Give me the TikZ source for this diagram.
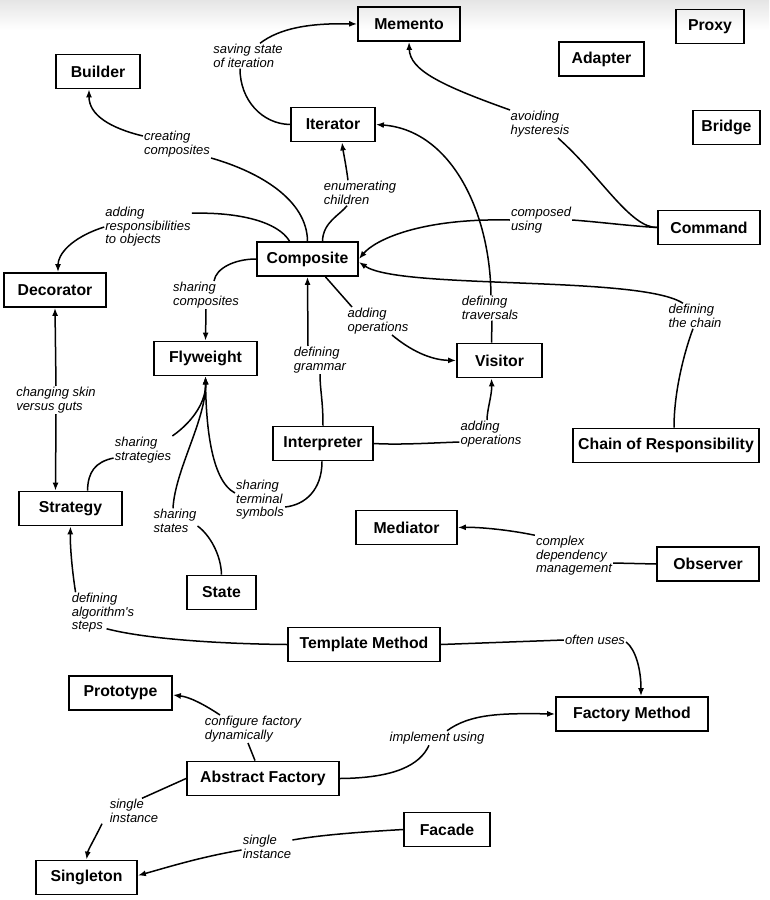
\documentclass[tikz,border=0pt]{standalone}
\usepackage{fontspec}
\newfontfamily\pfont{Liberation Sans}
\usetikzlibrary{arrows.meta}
\begin{document}
\begin{tikzpicture}[x=1pt,y=-1pt,
  pat/.style={draw, line width=1.8pt, font=\pfont\bfseries\fontsize{15.8}{17}\selectfont, minimum height=34pt, inner sep=2pt},
  lab/.style={font=\pfont\itshape\fontsize{13}{13.5}\selectfont, align=left, inner sep=1pt},
  con/.style={line width=1.5pt},
  arr/.style={con, -{Latex[length=8pt,width=6pt]}}]
\useasboundingbox (0,0) rectangle (769,900);
\shade[top color=black!10, bottom color=white] (0,0) rectangle (769,30);

% pattern boxes
\node[pat, minimum width=102pt] (memento) at (409,24) {Memento};
\node[pat, minimum width=68pt] (proxy) at (710,26.5) {Proxy};
\node[pat, minimum width=85pt] (adapter) at (601.5,59) {Adapter};
\node[pat, minimum width=84pt] (builder) at (98,71.5) {Builder};
\node[pat, minimum width=84pt] (iterator) at (333,124.5) {Iterator};
\node[pat, minimum width=67pt] (bridge) at (726.5,127.5) {Bridge};
\node[pat, minimum width=102pt] (command) at (709,227.5) {Command};
\node[pat, minimum width=101pt] (composite) at (307.5,259) {Composite};
\node[pat, minimum width=102pt] (decorator) at (55,290) {Decorator};
\node[pat, minimum width=103pt] (flyweight) at (205.5,358.5) {Flyweight};
\node[pat, minimum width=85pt] (visitor) at (499.5,360.5) {Visitor};
\node[pat, minimum width=100pt] (interpreter) at (323,443.5) {Interpreter};
\node[pat, minimum width=186pt] (chain) at (666,445.5) {Chain of Responsibility};
\node[pat, minimum width=103pt] (strategy) at (70.5,508.5) {Strategy};
\node[pat, minimum width=101pt] (mediator) at (406.5,527.5) {Mediator};
\node[pat, minimum width=102pt] (observer) at (708,564) {Observer};
\node[pat, minimum width=69pt] (state) at (221.5,592.5) {State};
\node[pat, minimum width=152pt] (template) at (364,644.5) {Template Method};
\node[pat, minimum width=103pt] (prototype) at (120.5,693) {Prototype};
\node[pat, minimum width=152pt] (factory) at (632,714) {Factory Method};
\node[pat, minimum width=152pt] (abstract) at (263,778.5) {Abstract Factory};
\node[pat, minimum width=86pt] (facade) at (447,829.5) {Facade};
\node[pat, minimum width=101pt] (singleton) at (86.5,877.5) {Singleton};

% labels
\node[lab] (l1) at (248,56) {saving state\\of iteration};
\node[lab] (l2) at (177,144) {creating\\composites};
\node[lab] (l3) at (360,193) {enumerating\\children};
\node[lab] (l4) at (148,227) {adding\\responsibilities\\to objects};
\node[lab] (l5) at (541,220) {composed\\using};
\node[lab] (l6) at (540,124) {avoiding\\hysteresis};
\node[lab] (l7) at (490,308) {defining\\traversals};
\node[lab] (l8) at (695,316) {defining\\the chain};
\node[lab] (l9) at (206,295) {sharing\\composites};
\node[lab] (l10) at (378,321) {adding\\operations};
\node[lab] (l11) at (320,360) {defining\\grammar};
\node[lab] (l12) at (491,434) {adding\\operations};
\node[lab] (l13) at (260,500) {sharing\\terminal\\symbols};
\node[lab] (l14) at (143,450) {sharing\\strategies};
\node[lab] (l15) at (175,521) {sharing\\states};
\node[lab] (l16) at (56,400) {changing skin\\versus guts};
\node[lab] (l17) at (103,613) {defining\\algorithm's\\steps};
\node[lab] (l18) at (595,640) {often uses};
\node[lab] (l19) at (574,556) {complex\\dependency\\management};
\node[lab] (l20) at (253,729) {configure factory\\dynamically};
\node[lab] (l21) at (437,738) {implement using};
\node[lab] (l22) at (134,811) {single\\instance};
\node[lab] (l23) at (267,847) {single\\instance};

% connectors
% Iterator -> Memento
\draw[con] (iterator.west) .. controls (262,124) and (240,100) .. ([xshift=-8pt]l1.south);
\draw[arr] ([xshift=12pt]l1.north) .. controls (280,28) and (310,23) .. (memento.west);
% Composite -> Builder
\draw[con] (composite.north) .. controls (307,200) and (260,172) .. (l2.south east);
\draw[arr] ([yshift=8pt]l2.west) .. controls (110,128) and (89,115) .. ([xshift=-9pt]builder.south);
% Composite -> Iterator
\draw[con] ([xshift=15pt]composite.north) .. controls (323,222) and (340,215) .. ([xshift=-13pt]l3.south);
\draw[arr] ([xshift=-12pt]l3.north) .. controls (346,165) and (343,150) .. ([xshift=9pt]iterator.south);
% Composite -> Decorator
\draw[con] ([xshift=-18pt]composite.north) .. controls (278,222) and (240,212) .. ([yshift=-7pt]l4.north east);
\draw[arr] (l4.west) .. controls (70,238) and (58,255) .. ([xshift=3pt]decorator.north);
% Command -> Composite
\draw[con] (command.west) .. controls (630,226) and (600,222) .. (l5.east);
\draw[arr] (l5.west) .. controls (420,218) and (375,240) .. (composite.east);
% Command -> Memento
\draw[con] (command.west) .. controls (630,228) and (600,175) .. ([xshift=18pt]l6.south);
\draw[arr] ([xshift=-30pt]l6.north) .. controls (440,85) and (410,70) .. (memento.south);
% Visitor -> Iterator
\draw[con] ([xshift=-8pt]visitor.north) -- ([xshift=2pt]l7.south);
\draw[arr] ([xshift=1pt]l7.north) .. controls (490,210) and (450,130) .. (iterator.east);
% Chain -> Composite
\draw[con] ([xshift=8pt]chain.north) .. controls (674,390) and (685,350) .. ([xshift=-2pt]l8.south);
\draw[arr] ([xshift=-12pt]l8.north) .. controls (640,275) and (400,290) .. ([yshift=-3pt]composite.east);
% Composite -> Flyweight
\draw[con] (composite.west) .. controls (235,259) and (216,268) .. ([xshift=8pt]l9.north);
\draw[arr] (l9.south) -- (flyweight.north);
% Composite -> Visitor
\draw[con] ([xshift=18pt]composite.south) -- ([xshift=-26pt]l10.north);
\draw[arr] ([xshift=14pt]l10.south) .. controls (410,350) and (430,360) .. (visitor.west);
% Interpreter -> Composite
\draw[con] (interpreter.north) .. controls (323,400) and (320,390) .. (l11.south);
\draw[arr] ([xshift=-12pt]l11.north) -- (composite.south);
% Interpreter -> Visitor
\draw[con] (interpreter.east) .. controls (400,445) and (430,443) .. ([yshift=-8pt]l12.west);
\draw[arr] ([xshift=-4pt]l12.north) .. controls (487,410) and (492,395) .. ([xshift=-8pt]visitor.south);
% Interpreter -> Flyweight
\draw[con] ([xshift=-1pt]interpreter.south) .. controls (322,490) and (305,505) .. ([yshift=-7pt]l13.east);
\draw[arr] ([yshift=7pt]l13.west) .. controls (210,480) and (206,420) .. (flyweight.south);
% Strategy -> Flyweight
\draw[con] ([xshift=17pt]strategy.north) .. controls (88,472) and (95,462) .. ([yshift=-8pt]l14.west);
\draw[arr] (l14.north east) .. controls (195,420) and (206,400) .. (flyweight.south);
% State -> Flyweight
\draw[con] (state.north) .. controls (221,555) and (210,535) .. ([yshift=-5pt]l15.east);
\draw[arr] ([xshift=-2pt]l15.north) .. controls (175,470) and (206,420) .. (flyweight.south);
% Decorator <-> Strategy
\draw[arr] (l16.north) -- (decorator.south);
\draw[arr] (l16.south) -- ([xshift=-15pt]strategy.north);
% Template Method -> Strategy
\draw[con] (template.west) .. controls (230,644) and (150,640) .. ([xshift=36pt,yshift=5pt]l17.south west);
\draw[arr] ([xshift=5pt]l17.north west) .. controls (72,570) and (70,545) .. (strategy.south);
% Template Method -> Factory Method
\draw[con] (template.east) -- (l18.west);
\draw[arr] ([yshift=-2pt]l18.east) .. controls (636,650) and (641,670) .. ([xshift=9pt]factory.north);
% Observer -> Mediator
\draw[con] (observer.west) -- ([yshift=-7pt]l19.east);
\draw[arr] (l19.north west) .. controls (510,530) and (480,527) .. (mediator.east);
% Abstract Factory -> Prototype
\draw[con] ([xshift=-8pt]abstract.north) -- ([xshift=-5pt]l20.south);
\draw[arr] ([xshift=-33pt]l20.north) .. controls (205,705) and (190,697) .. ([yshift=-2pt]prototype.east);
% Abstract Factory -> Factory Method
\draw[con] (abstract.east) .. controls (395,778) and (420,765) .. ([xshift=-8pt]l21.south);
\draw[arr] ([xshift=10pt]l21.north) .. controls (470,714) and (500,713) .. (factory.west);
% Abstract Factory -> Singleton
\draw[con] (abstract.west) -- ([xshift=8pt]l22.north);
\draw[arr] ([xshift=-32pt]l22.south) .. controls (95,838) and (88,850) .. (singleton.north);
% Facade -> Singleton
\draw[con] (facade.west) .. controls (360,832) and (320,835) .. ([yshift=7pt]l23.east);
\draw[arr] ([yshift=-3pt]l23.west) .. controls (200,857) and (165,868) .. ([yshift=2pt]singleton.east);
\end{tikzpicture}
\end{document}
